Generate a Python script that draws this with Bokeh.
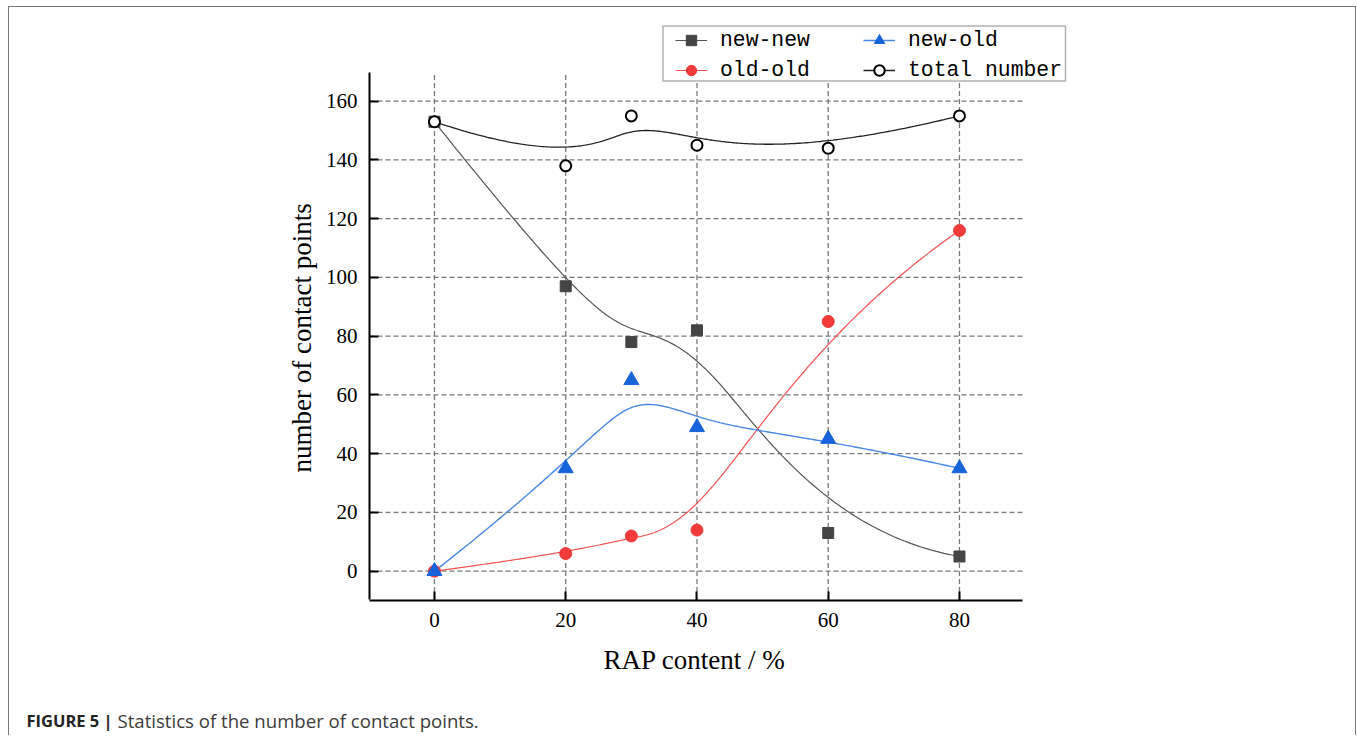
import numpy as np
from bokeh.plotting import figure
from bokeh.layouts import column
from bokeh.models import Range1d, Legend, LegendItem, Label, BoxAnnotation, FixedTicker, Title
from bokeh.embed import file_html
from bokeh.resources import INLINE

# ---- data ----
rap = [0, 20, 30, 40, 60, 80]
new_new = [153, 97, 78, 82, 13, 5]
new_old = [0, 35, 65, 49, 45, 35]
old_old = [0, 6, 12, 14, 85, 116]
total_number = [153, 138, 155, 145, 144, 155]
x_ticks = [0, 20, 40, 60, 80]
y_ticks = [0, 20, 40, 60, 80, 100, 120, 140, 160]
x_lim = (-9.9, 89.6)
y_lim = (-9.8, 169.9)
series_names = ["new-new", "new-old", "old-old", "total number"]
x_title = "RAP content / %"
y_title = "number of contact points"
caption_bold = "FIGURE 5 |"
caption_text = "Statistics of the number of contact points."


def bspline(px, py, num=300):
    """Clamped cubic B-spline using the data points as control points."""
    P = np.column_stack([px, py]).astype(float)
    n = len(P)
    k = 3
    kv = np.concatenate([[0] * k, np.arange(n - k + 1), [n - k] * k]).astype(float)
    ts = np.linspace(0, n - k, num)
    out = []
    for t in ts:
        s = min(int(np.searchsorted(kv, t, side="right")) - 1, n - 1)
        d = [P[j + s - k].copy() for j in range(k + 1)]
        for r in range(1, k + 1):
            for j in range(k, r - 1, -1):
                i = j + s - k
                den = kv[i + 1 + k - r] - kv[i]
                a = 0.0 if den == 0 else (t - kv[i]) / den
                d[j] = (1 - a) * d[j - 1] + a * d[j]
        out.append(d[k])
    out = np.array(out)
    return out[:, 0], out[:, 1]


# page geometry (px)
OX, OY = 9, 7                # top-left of the charts inside the bordered box
WA, HA = 1346, 683           # chart figure
HB = 45                      # caption strip
F_LEFT, F_BOTTOM = 369, 600  # chart frame (page px)
F_RIGHT, F_TOP = 1075, 20    # frame extended to host the legend
XPX = 6.5625                 # px per x unit
YPX = 2.9375                 # px per y unit
Y0PX = 570.7                 # page y of value 0


def dx(page_x):
    return x_lim[0] + (page_x - F_LEFT) / XPX


def dy(page_y):
    return (Y0PX - page_y) / YPX


p = figure(width=WA, height=HA, output_backend="svg", toolbar_location=None,
           x_range=Range1d(x_lim[0], dx(F_RIGHT)), y_range=Range1d(dy(F_BOTTOM), dy(F_TOP)),
           min_border_left=F_LEFT - OX, min_border_right=WA - (F_RIGHT - OX),
           min_border_top=F_TOP - OY, min_border_bottom=HA - (F_BOTTOM - OY))
p.frame_align = False
p.outline_line_color = None
p.background_fill_color = "white"
p.border_fill_color = "white"
p.xgrid.visible = False
p.ygrid.visible = False

serif = "Liberation Serif"
for ax in (p.xaxis[0], p.yaxis[0]):
    ax.axis_line_width = 2
    ax.axis_line_color = "black"
    ax.major_tick_in = 9
    ax.major_tick_out = 0
    ax.major_tick_line_width = 2
    ax.minor_tick_line_color = None
    ax.major_label_text_font = serif
    ax.major_label_text_font_size = "21px"
    ax.major_label_text_color = "black"
    ax.major_label_standoff = 12

p.xaxis[0].ticker = FixedTicker(ticks=x_ticks)
p.yaxis[0].ticker = FixedTicker(ticks=y_ticks)
p.xaxis[0].bounds = x_lim
p.yaxis[0].bounds = y_lim

# axis titles, positioned along the (bounded) axes
p.add_layout(Title(text=x_title, align="left", offset=603 - F_LEFT, standoff=26,
                   text_font=serif, text_font_size="27px", text_font_style="normal",
                   text_color="black"), "below")
p.add_layout(Title(text=y_title, align="left", offset=F_BOTTOM - 472, standoff=12,
                   text_font=serif, text_font_size="27px", text_font_style="normal",
                   text_color="black"), "left")

# dashed grid limited to the axes' extent
grid_kw = dict(line_color="#7a7a7a", line_dash="5 3", line_width=1.3)
p.segment(x0=x_ticks, y0=[y_lim[0]] * len(x_ticks), x1=x_ticks, y1=[y_lim[1]] * len(x_ticks), **grid_kw)
p.segment(x0=[x_lim[0]] * len(y_ticks), y0=y_ticks, x1=[x_lim[1]] * len(y_ticks), y1=y_ticks, **grid_kw)

gray_m, gray_l = "#444444", "#555555"
blue_m, blue_l = "#1763d9", "#4a88e6"
red_m, red_l = "#f23a3a", "#f45252"

# curves
bx, by = bspline(rap, new_new)
l_nn = p.line(bx, by, line_color=gray_l, line_width=1.2)
bx, by = bspline(rap, old_old)
l_oo = p.line(bx, by, line_color=red_l, line_width=1.2)
bx, by = bspline(rap, new_old)
l_no = p.line(bx, by, line_color=blue_l, line_width=1.4)
bx, by = bspline(rap, total_number)
l_tn = p.line(bx, by, line_color="#222222", line_width=1.3)

# markers
s_nn = p.scatter(rap, new_new, marker="square", size=11, fill_color=gray_m, line_color=gray_m)
s_oo = p.scatter(rap, old_old, marker="circle", size=12, fill_color=red_m, line_color=red_m)
s_no = p.scatter(rap, new_old, marker="triangle", size=15, fill_color=blue_m, line_color=blue_m)
s_tn = p.scatter(rap, total_number, marker="circle", size=11, fill_color="white",
                 line_color="black", line_width=2)

# legend box
p.add_layout(BoxAnnotation(left=dx(662.5), right=dx(1065), top=dy(25.5), bottom=dy(80.5),
                           fill_color="white", fill_alpha=1, line_color="black",
                           line_width=1.5, level="annotation"))


def make_legend(items, page_x):
    lg = Legend(items=items, location=(page_x - F_LEFT, F_BOTTOM - 83))
    lg.label_text_font = "Liberation Mono"
    lg.label_text_font_size = "21.4px"
    lg.label_text_color = "black"
    lg.border_line_color = None
    lg.background_fill_alpha = 0
    lg.padding = 0
    lg.spacing = 4
    lg.margin = 0
    lg.glyph_width = 32
    lg.glyph_height = 26
    lg.label_height = 26
    lg.label_standoff = 13
    return lg


p.add_layout(make_legend([
    LegendItem(label=series_names[0], renderers=[l_nn, s_nn]),
    LegendItem(label=series_names[2], renderers=[l_oo, s_oo]),
], 675), "center")
p.add_layout(make_legend([
    LegendItem(label=series_names[1], renderers=[l_no, s_no]),
    LegendItem(label=series_names[3], renderers=[l_tn, s_tn]),
], 863), "center")

# caption strip
c = figure(width=WA, height=HB, output_backend="svg", toolbar_location=None,
           x_range=Range1d(0, WA), y_range=Range1d(HB, 0),
           min_border=0, min_border_left=0, min_border_right=0,
           min_border_top=0, min_border_bottom=0)
c.frame_align = False
c.axis.visible = False
c.grid.visible = False
c.outline_line_color = None
c.border_fill_color = "white"
c.add_layout(Label(x=26 - OX, y=720 - 690, text=caption_bold, text_font="Open Sans",
                   text_font_style="bold", text_font_size="16.5px", text_color="#222222",
                   text_baseline="alphabetic"))
c.add_layout(Label(x=117 - OX, y=720 - 690, text=caption_text, text_font="Open Sans",
                   text_font_size="18.6px", text_color="#3c3c3c", text_baseline="alphabetic"))

root = column(p, c, spacing=0, margin=(6, 0, 0, 8),
              styles={"border-left": "1px solid #777", "border-top": "1px solid #777",
                      "border-right": "1px solid #777"})

open("out.html", "w").write(file_html(root, INLINE))
